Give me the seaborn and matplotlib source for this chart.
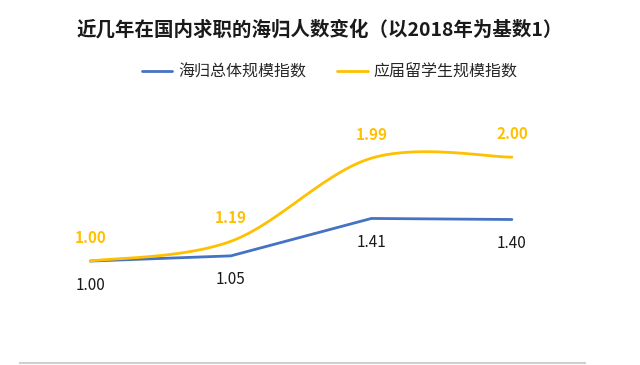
import numpy as np
import pandas as pd
import matplotlib
matplotlib.use('Agg')
import matplotlib.pyplot as plt
import seaborn as sns

# Data
years = [2018, 2019, 2020, 2021]
overall_index = [1.00, 1.05, 1.41, 1.40]      # 海归总体规模指数
graduate_index = [1.00, 1.19, 1.99, 2.00]     # 应届留学生规模指数
series_names = ['海归总体规模指数', '应届留学生规模指数']
title = '近几年在国内求职的海归人数变化（以2018年为基数1）'

blue = '#4472C4'
gold = '#FFC000'

sns.set_theme(style='white')
plt.rcParams['font.family'] = ['Noto Sans CJK SC', 'DejaVu Sans']


def smooth(xs, ys, n=40):
    # Catmull-Rom style smoothing (like Excel's "smoothed line")
    xs = np.asarray(xs, float)
    ys = np.asarray(ys, float)
    px = np.concatenate([[xs[0]], xs, [xs[-1]]])
    py = np.concatenate([[ys[0]], ys, [ys[-1]]])
    out_x, out_y = [], []
    for i in range(1, len(px) - 2):
        t = np.linspace(0, 1, n, endpoint=(i == len(px) - 3))
        for p, out in ((px, out_x), (py, out_y)):
            p0, p1, p2, p3 = p[i - 1], p[i], p[i + 1], p[i + 2]
            out.extend(0.5 * ((2 * p1) + (-p0 + p2) * t
                              + (2 * p0 - 5 * p1 + 4 * p2 - p3) * t ** 2
                              + (-p0 + 3 * p1 - 3 * p2 + p3) * t ** 3))
    return np.array(out_x), np.array(out_y)


pos = np.arange(len(years))
df_blue = pd.DataFrame({'x': pos, 'y': overall_index})
sx, sy = smooth(pos, graduate_index)
df_gold = pd.DataFrame({'x': sx, 'y': sy})

fig = plt.figure(figsize=(6.4, 3.65), dpi=100)
ax = fig.add_axes([20 / 640, 2 / 365, 565 / 640, 263 / 365])

sns.lineplot(data=df_blue, x='x', y='y', color=blue, linewidth=2,
             label=series_names[0], ax=ax)
sns.lineplot(data=df_gold, x='x', y='y', color=gold, linewidth=2,
             label=series_names[1], ax=ax, sort=False)

# data labels
for x, v in zip(pos, overall_index):
    ax.annotate(f'{v:.2f}', (x, v), xytext=(0, -24), textcoords='offset pixels',
                ha='center', va='center', fontsize=11, color='#1a1a1a')
for x, v in zip(pos, graduate_index):
    ax.annotate(f'{v:.2f}', (x, v), xytext=(0, 23), textcoords='offset pixels',
                ha='center', va='center', fontsize=11, color=gold,
                fontweight='bold')

ax.set_xlim(-0.5, 3.52)
ax.set_ylim(0.019, 2.55)
ax.set_xticks([])
ax.set_yticks([])
ax.set_xlabel('')
ax.set_ylabel('')
for s in ['top', 'left', 'right']:
    ax.spines[s].set_visible(False)
ax.spines['bottom'].set_color('#D0D0D0')
ax.spines['bottom'].set_linewidth(1.5)

fig.text(0.5, 1 - 30 / 365, title, ha='center', va='center',
         fontsize=14, fontweight='bold', color='#1a1a1a')

ax.legend(loc='center', bbox_to_anchor=(330 / 640, 1 - 72 / 365),
          bbox_transform=fig.transFigure, ncol=2, frameon=False,
          fontsize=11.5, handlelength=1.9, handletextpad=0.4,
          columnspacing=1.9, labelcolor='#262626')

fig.savefig('out.png', dpi=100, facecolor='white')
